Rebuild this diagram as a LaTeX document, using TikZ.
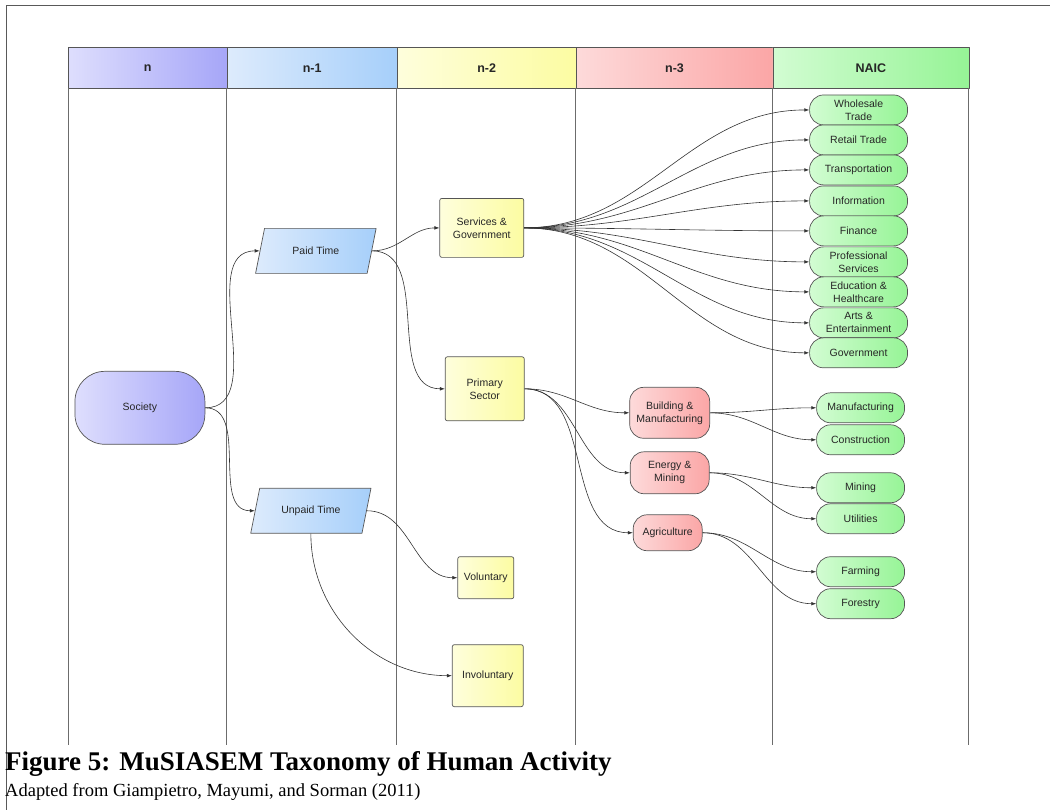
\documentclass[tikz,border=0pt]{standalone}
\usepackage{fontspec}
\setmainfont{Liberation Serif}
\setsansfont{Liberation Sans}
\usetikzlibrary{arrows.meta,shapes.geometric}

\definecolor{lineg}{HTML}{555555}
\definecolor{lavL}{HTML}{DEDEFD}
\definecolor{lavR}{HTML}{A6A6F8}
\definecolor{skyL}{HTML}{DDEBFC}
\definecolor{skyR}{HTML}{A6CFFA}
\definecolor{lemL}{HTML}{FEFEDC}
\definecolor{lemR}{HTML}{FCFCA2}
\definecolor{roseL}{HTML}{FDDADA}
\definecolor{roseR}{HTML}{FBA6A6}
\definecolor{mintL}{HTML}{D2FCD2}
\definecolor{mintR}{HTML}{96F496}

\begin{document}
\begin{tikzpicture}[x=1pt, y=-1pt, line join=round,
  font=\sffamily\fontsize{10.5}{13}\selectfont,
  box/.style={draw=lineg, line width=0.7pt, inner sep=0pt, align=center, text=black!85},
  header/.style={box, anchor=north west, minimum height=41pt,
    font=\sffamily\bfseries\fontsize{12.5}{14}\selectfont},
  society/.style={box, rounded corners=30pt, left color=lavL, right color=lavR},
  timebox/.style={box, trapezium, trapezium left angle=62, trapezium right angle=118,
    trapezium stretches=true, minimum width=121pt, minimum height=45pt,
    left color=skyL, right color=skyR},
  sector/.style={box, rounded corners=2pt, left color=lemL, right color=lemR},
  branch/.style={box, rounded corners=14pt, left color=roseL, right color=roseR},
  naic/.style={box, rounded corners=14pt, minimum height=30pt, left color=mintL, right color=mintR},
  conn/.style={draw=black!80, line width=0.6pt, -{Latex[length=5pt,width=3.6pt]}},
]
  % page frame (fixes the size)
  \path (0,0) rectangle (1050,810);
  \draw[gray!70!black, line width=1pt] (7,810) -- (7,6) -- (1050,6);

  % column headers
  \node[header, minimum width=159pt, left color=lavL, right color=lavR] (hn) at (68,47) {n};
  \node[header, minimum width=170pt, left color=skyL, right color=skyR] (hn1) at (227,47) {n-1};
  \node[header, minimum width=179pt, left color=lemL, right color=lemR] (hn2) at (397,47) {n-2};
  \node[header, minimum width=197pt, left color=roseL, right color=roseR] (hn3) at (576,47) {n-3};
  \node[header, minimum width=196pt, left color=mintL, right color=mintR] (hnaic) at (773,47) {NAIC};

  % column rules
  \foreach \x in {68,227,397,576,773,969}
    \draw[gray!85!black, line width=0.8pt] (\x,88) -- (\x,745);

  % n and n-1
  \node[society, minimum width=130pt, minimum height=73pt] (soc) at (140,408) {Society};
  \node[timebox] (paid) at (316,251) {Paid Time};
  \node[timebox] (unpaid) at (311,511) {Unpaid Time};

  % n-2
  \node[sector, minimum width=84pt, minimum height=59pt] (servgov) at (482,228) {Services \&\\Government};
  \node[sector, minimum width=79pt, minimum height=64pt] (primary) at (485,389) {Primary\\Sector};
  \node[sector, minimum width=56pt, minimum height=42pt] (vol) at (486,578) {Voluntary};
  \node[sector, minimum width=71pt, minimum height=62pt] (invol) at (488,676) {Involuntary};

  % n-3
  \node[branch, minimum width=80pt, minimum height=51pt] (build) at (670,413) {Building \&\\Manufacturing};
  \node[branch, minimum width=79pt, minimum height=42pt] (energy) at (670,473) {Energy \&\\Mining};
  \node[branch, minimum width=69pt, minimum height=36pt] (agri) at (668,533) {Agriculture};

  % NAIC sectors fed by services
  \foreach \nm/\y/\txt in {whole/110/{Wholesale\\Trade}, retail/140/{Retail Trade},
      transp/170/{Transportation}, info/201/{Information}, fin/231/{Finance},
      prof/262/{Professional\\Services}, edu/292/{Education \&\\Healthcare},
      arts/323/{Arts \&\\Entertainment}, gov/353/{Government}} {
    \node[naic, minimum width=98pt] (\nm) at (859,\y) {\txt};
    \draw[conn] (servgov.east) to[out=0, in=180] (\nm.west);
  }

  % NAIC sectors fed by primary branches
  \foreach \nm/\y/\txt in {manuf/408/Manufacturing, constr/440/Construction,
      mining/488/Mining, util/519/Utilities, farm/572/Farming, forest/604/Forestry}
    \node[naic, minimum width=88pt] (\nm) at (861,\y) {\txt};

  % connectors
  \draw[conn] (soc.east) to[out=0, in=180] (paid.west);
  \draw[conn] (soc.east) to[out=0, in=180] (unpaid.west);
  \draw[conn] (paid.east) to[out=0, in=180] (servgov.west);
  \draw[conn] (paid.east) to[out=0, in=180] (primary.west);
  \draw[conn] (unpaid.east) to[out=0, in=180] (vol.west);
  \draw[conn] (unpaid.south) to[out=-90, in=180] (invol.west);
  \foreach \t in {build,energy,agri}
    \draw[conn] (primary.east) to[out=0, in=180] (\t.west);
  \draw[conn] (build.east) to[out=0, in=180] (manuf.west);
  \draw[conn] (build.east) to[out=0, in=180] (constr.west);
  \draw[conn] (energy.east) to[out=0, in=180] (mining.west);
  \draw[conn] (energy.east) to[out=0, in=180] (util.west);
  \draw[conn] (agri.east) to[out=0, in=180] (farm.west);
  \draw[conn] (agri.east) to[out=0, in=180] (forest.west);

  % caption
  \node[anchor=base west, inner sep=0pt, font=\rmfamily\bfseries\fontsize{27}{30}\selectfont]
    (capt) at (5,771) {Figure 5: MuSIASEM Taxonomy of Human Activity};
  \node[anchor=base west, inner sep=0pt, font=\rmfamily\fontsize{18.5}{22}\selectfont]
    (src) at (5,797) {Adapted from Giampietro, Mayumi, and Sorman (2011)};
\end{tikzpicture}
\end{document}
